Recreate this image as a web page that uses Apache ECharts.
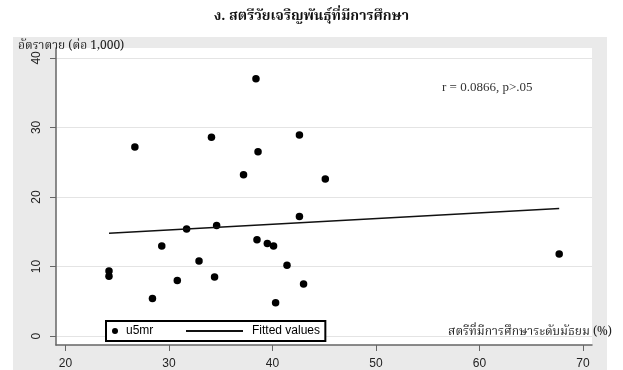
<!DOCTYPE html>
<html><head><meta charset="utf-8">
<script src="https://cdn.jsdelivr.net/npm/echarts@6/dist/echarts.min.js"></script>
<style>html,body{margin:0;padding:0;background:#fff}#c{width:623px;height:370px}</style>
</head><body><div id="c"></div>
<script>
// Data
const eduPct = [26.7, 34.1, 38.4, 38.6, 37.2, 42.6, 45.1, 24.2, 24.2, 28.4, 29.3, 30.8, 31.7, 32.9, 34.4, 34.6, 38.5, 39.5, 40.1, 40.3, 41.4, 42.6, 43.0, 67.7];
const u5mr   = [27.2, 28.6, 37.0, 26.5, 23.2, 28.9, 22.6, 9.36, 8.6, 5.4, 12.95, 8.0, 15.4, 10.8, 8.5, 15.9, 13.85, 13.3, 12.95, 4.8, 10.2, 17.2, 7.5, 11.8];
const fitX = [24.2, 67.7];
const fitY = [14.8, 18.35];
const xTicks = [20, 30, 40, 50, 60, 70];
const yTicks = [0, 10, 20, 30, 40];

const thaiFont = "'Noto Serif Thai','Noto Sans Thai','Loma','Garuda','DejaVu Sans',sans-serif";
const scatterData = eduPct.map((x, i) => [x, u5mr[i]]);
const fitData = fitX.map((x, i) => [x, fitY[i]]);

const chart = echarts.init(document.getElementById('c'), null, {renderer: 'canvas'});
chart.setOption({
  animation: false,
  backgroundColor: '#ffffff',
  graphic: [{
    type: 'rect', z: -10, silent: true,
    shape: {x: 13, y: 37, width: 594, height: 340},
    style: {fill: '#eaeaea'}
  }],
  title: [
    {text: 'ง. สตรีวัยเจริญพันธุ์ที่มีการศึกษา', left: 'center', top: 6,
     textStyle: {fontFamily: thaiFont, fontSize: 14, fontWeight: 'bold', color: '#111'}},
    {text: 'อัตราตาย (ต่อ 1,000)', left: 13, top: 36,
     textStyle: {fontFamily: thaiFont, fontSize: 12, fontWeight: 'normal', color: '#222'}},
    {text: 'r = 0.0866, p>.05', left: 437, top: 76,
     textStyle: {fontFamily: "'Liberation Serif','Times New Roman',serif", fontSize: 13, fontWeight: 'normal', color: '#333'}}
  ],
  grid: {left: 56, right: 31, top: 48, bottom: 21, show: true, backgroundColor: '#ffffff', borderWidth: 0, containLabel: false},
  xAxis: {
    type: 'value', min: 19.08, max: 70.87,
    name: 'สตรีที่มีการศึกษาระดับมัธยม (%)', nameLocation: 'end', nameGap: 20,
    nameTextStyle: {fontFamily: thaiFont, fontSize: 12, color: '#222', align: 'right', verticalAlign: 'bottom', padding: [0, 0, 6, 0]},
    axisLine: {show: true, onZero: false, lineStyle: {color: '#666', width: 1.5}},
    axisTick: {show: true, length: 6, customValues: xTicks, lineStyle: {color: '#666'}},
    axisLabel: {customValues: xTicks, margin: 13, fontFamily: "'Liberation Sans',Arial,sans-serif", fontSize: 12, color: '#222'},
    splitLine: {show: false}
  },
  yAxis: {
    type: 'value', min: -1.28, max: 41.42,
    axisLine: {show: true, onZero: false, lineStyle: {color: '#666', width: 1.5}},
    axisTick: {show: true, length: 6, customValues: yTicks, lineStyle: {color: '#666'}},
    axisLabel: {customValues: yTicks, rotate: 90, margin: 13, fontFamily: "'Liberation Sans',Arial,sans-serif", fontSize: 12, color: '#222'},
    splitLine: {show: true, lineStyle: {color: '#e4e4e4', width: 1}}
  },
  legend: [
    {data: [{name: 'u5mr', icon: 'circle'}], left: 106, top: 321, orient: 'horizontal',
     itemWidth: 6, itemHeight: 6, itemGap: 10,
     padding: [4, 172, 4, 6], borderColor: '#000', borderWidth: 2, borderRadius: 0, backgroundColor: '#fff',
     textStyle: {fontFamily: "'Liberation Sans',Arial,sans-serif", fontSize: 12, color: '#000', padding: [0, 0, 0, 3]}},
    {data: ['Fitted values'], left: 183, top: 323, itemWidth: 57, itemHeight: 2, padding: 2,
     textStyle: {fontFamily: "'Liberation Sans',Arial,sans-serif", fontSize: 12, color: '#000', padding: [0, 0, 0, 4]}}
  ],
  series: [
    {name: 'u5mr', type: 'scatter', data: scatterData, symbol: 'circle', symbolSize: 7.5,
     itemStyle: {color: '#000', opacity: 1}},
    {name: 'Fitted values', type: 'line', data: fitData, showSymbol: false, symbol: 'none',
     lineStyle: {color: '#111', width: 1.5}, itemStyle: {color: '#111'}}
  ]
});
</script></body></html>
